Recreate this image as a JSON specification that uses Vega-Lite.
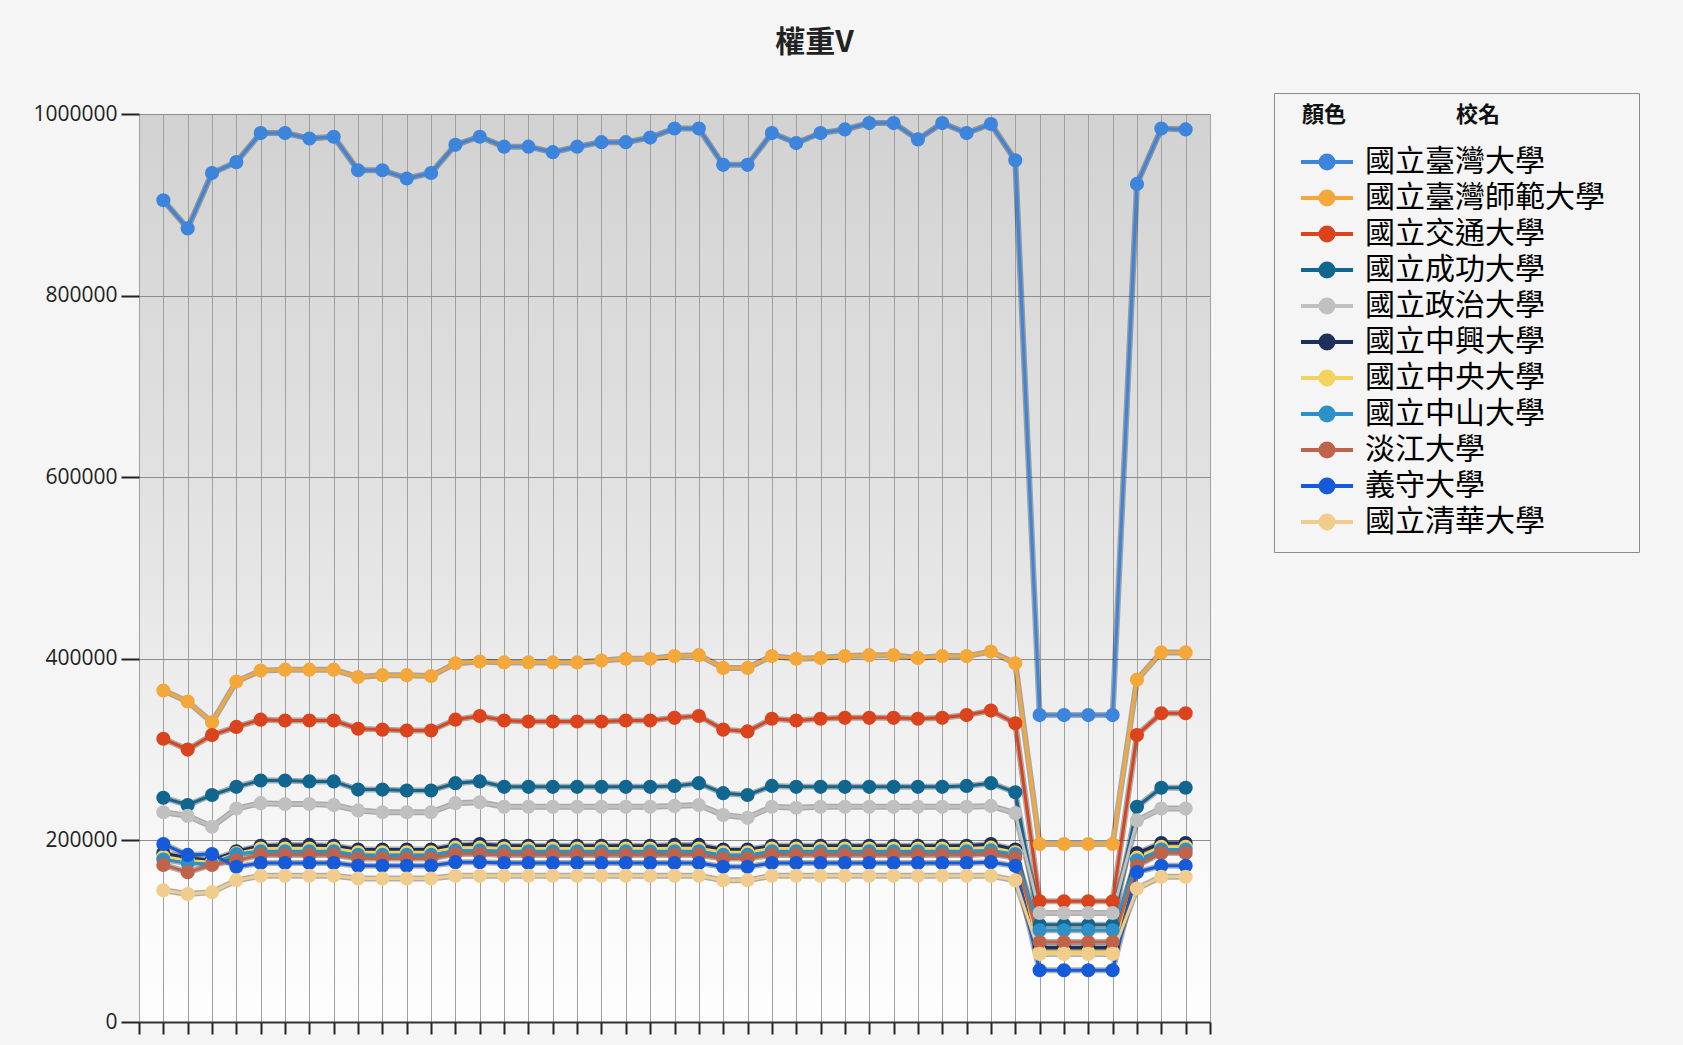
{
"$schema": "https://vega.github.io/schema/vega-lite/v6.json",
"width": 1071, "height": 908,
"autosize": {"type": "none"},
"padding": {"left": 139, "top": 114, "right": 473, "bottom": 23},
"background": "#f5f5f5",
"title": {"text": "權重V", "anchor": "middle", "frame": "group", "dx": 140, "offset": 35, "fontSize": 30, "font": "Noto Sans CJK TC", "fontWeight": "bold", "color": "#222222"},
"config": {
  "view": {"stroke": null, "fill": {"gradient": "linear", "x1": 0, "y1": 0, "x2": 0, "y2": 1, "stops": [{"offset": 0, "color": "#d2d2d2"}, {"offset": 0.5, "color": "#e5e5e5"}, {"offset": 0.85, "color": "#fafafa"}, {"offset": 1, "color": "#fdfdfd"}]}}
},
"data": {"values": [
{"s":"國立臺灣大學","t":1,"v":905000},{"s":"國立臺灣大學","t":2,"v":874000},{"s":"國立臺灣大學","t":3,"v":935000},{"s":"國立臺灣大學","t":4,"v":947000},{"s":"國立臺灣大學","t":5,"v":979000},{"s":"國立臺灣大學","t":6,"v":979000},{"s":"國立臺灣大學","t":7,"v":973000},{"s":"國立臺灣大學","t":8,"v":975000},{"s":"國立臺灣大學","t":9,"v":938000},{"s":"國立臺灣大學","t":10,"v":938000},{"s":"國立臺灣大學","t":11,"v":929000},{"s":"國立臺灣大學","t":12,"v":935000},{"s":"國立臺灣大學","t":13,"v":966000},{"s":"國立臺灣大學","t":14,"v":975000},{"s":"國立臺灣大學","t":15,"v":964000},{"s":"國立臺灣大學","t":16,"v":964000},{"s":"國立臺灣大學","t":17,"v":958000},{"s":"國立臺灣大學","t":18,"v":964000},{"s":"國立臺灣大學","t":19,"v":969000},{"s":"國立臺灣大學","t":20,"v":969000},{"s":"國立臺灣大學","t":21,"v":974000},{"s":"國立臺灣大學","t":22,"v":984000},{"s":"國立臺灣大學","t":23,"v":984000},{"s":"國立臺灣大學","t":24,"v":944000},{"s":"國立臺灣大學","t":25,"v":944000},{"s":"國立臺灣大學","t":26,"v":979000},{"s":"國立臺灣大學","t":27,"v":968000},{"s":"國立臺灣大學","t":28,"v":979000},{"s":"國立臺灣大學","t":29,"v":983000},{"s":"國立臺灣大學","t":30,"v":990000},{"s":"國立臺灣大學","t":31,"v":990000},{"s":"國立臺灣大學","t":32,"v":972000},{"s":"國立臺灣大學","t":33,"v":990000},{"s":"國立臺灣大學","t":34,"v":979000},{"s":"國立臺灣大學","t":35,"v":989000},{"s":"國立臺灣大學","t":36,"v":949000},{"s":"國立臺灣大學","t":37,"v":338000},{"s":"國立臺灣大學","t":38,"v":338000},{"s":"國立臺灣大學","t":39,"v":338000},{"s":"國立臺灣大學","t":40,"v":338000},{"s":"國立臺灣大學","t":41,"v":923000},{"s":"國立臺灣大學","t":42,"v":984000},{"s":"國立臺灣大學","t":43,"v":983000},
{"s":"國立臺灣師範大學","t":1,"v":365000},{"s":"國立臺灣師範大學","t":2,"v":353000},{"s":"國立臺灣師範大學","t":3,"v":330000},{"s":"國立臺灣師範大學","t":4,"v":375000},{"s":"國立臺灣師範大學","t":5,"v":387000},{"s":"國立臺灣師範大學","t":6,"v":388000},{"s":"國立臺灣師範大學","t":7,"v":388000},{"s":"國立臺灣師範大學","t":8,"v":388000},{"s":"國立臺灣師範大學","t":9,"v":380000},{"s":"國立臺灣師範大學","t":10,"v":382000},{"s":"國立臺灣師範大學","t":11,"v":382000},{"s":"國立臺灣師範大學","t":12,"v":381000},{"s":"國立臺灣師範大學","t":13,"v":395000},{"s":"國立臺灣師範大學","t":14,"v":397000},{"s":"國立臺灣師範大學","t":15,"v":396000},{"s":"國立臺灣師範大學","t":16,"v":396000},{"s":"國立臺灣師範大學","t":17,"v":396000},{"s":"國立臺灣師範大學","t":18,"v":396000},{"s":"國立臺灣師範大學","t":19,"v":398000},{"s":"國立臺灣師範大學","t":20,"v":400000},{"s":"國立臺灣師範大學","t":21,"v":400000},{"s":"國立臺灣師範大學","t":22,"v":403000},{"s":"國立臺灣師範大學","t":23,"v":404000},{"s":"國立臺灣師範大學","t":24,"v":390000},{"s":"國立臺灣師範大學","t":25,"v":390000},{"s":"國立臺灣師範大學","t":26,"v":403000},{"s":"國立臺灣師範大學","t":27,"v":400000},{"s":"國立臺灣師範大學","t":28,"v":401000},{"s":"國立臺灣師範大學","t":29,"v":403000},{"s":"國立臺灣師範大學","t":30,"v":404000},{"s":"國立臺灣師範大學","t":31,"v":404000},{"s":"國立臺灣師範大學","t":32,"v":401000},{"s":"國立臺灣師範大學","t":33,"v":403000},{"s":"國立臺灣師範大學","t":34,"v":403000},{"s":"國立臺灣師範大學","t":35,"v":408000},{"s":"國立臺灣師範大學","t":36,"v":395000},{"s":"國立臺灣師範大學","t":37,"v":196000},{"s":"國立臺灣師範大學","t":38,"v":196000},{"s":"國立臺灣師範大學","t":39,"v":196000},{"s":"國立臺灣師範大學","t":40,"v":196000},{"s":"國立臺灣師範大學","t":41,"v":377000},{"s":"國立臺灣師範大學","t":42,"v":407000},{"s":"國立臺灣師範大學","t":43,"v":407000},
{"s":"國立交通大學","t":1,"v":312000},{"s":"國立交通大學","t":2,"v":300000},{"s":"國立交通大學","t":3,"v":316000},{"s":"國立交通大學","t":4,"v":325000},{"s":"國立交通大學","t":5,"v":333000},{"s":"國立交通大學","t":6,"v":332000},{"s":"國立交通大學","t":7,"v":332000},{"s":"國立交通大學","t":8,"v":332000},{"s":"國立交通大學","t":9,"v":323000},{"s":"國立交通大學","t":10,"v":322000},{"s":"國立交通大學","t":11,"v":321000},{"s":"國立交通大學","t":12,"v":321000},{"s":"國立交通大學","t":13,"v":333000},{"s":"國立交通大學","t":14,"v":337000},{"s":"國立交通大學","t":15,"v":332000},{"s":"國立交通大學","t":16,"v":331000},{"s":"國立交通大學","t":17,"v":331000},{"s":"國立交通大學","t":18,"v":331000},{"s":"國立交通大學","t":19,"v":331000},{"s":"國立交通大學","t":20,"v":332000},{"s":"國立交通大學","t":21,"v":332000},{"s":"國立交通大學","t":22,"v":335000},{"s":"國立交通大學","t":23,"v":337000},{"s":"國立交通大學","t":24,"v":322000},{"s":"國立交通大學","t":25,"v":320000},{"s":"國立交通大學","t":26,"v":334000},{"s":"國立交通大學","t":27,"v":332000},{"s":"國立交通大學","t":28,"v":334000},{"s":"國立交通大學","t":29,"v":335000},{"s":"國立交通大學","t":30,"v":335000},{"s":"國立交通大學","t":31,"v":335000},{"s":"國立交通大學","t":32,"v":334000},{"s":"國立交通大學","t":33,"v":335000},{"s":"國立交通大學","t":34,"v":338000},{"s":"國立交通大學","t":35,"v":343000},{"s":"國立交通大學","t":36,"v":329000},{"s":"國立交通大學","t":37,"v":133000},{"s":"國立交通大學","t":38,"v":133000},{"s":"國立交通大學","t":39,"v":133000},{"s":"國立交通大學","t":40,"v":133000},{"s":"國立交通大學","t":41,"v":316000},{"s":"國立交通大學","t":42,"v":340000},{"s":"國立交通大學","t":43,"v":340000},
{"s":"國立成功大學","t":1,"v":247000},{"s":"國立成功大學","t":2,"v":239000},{"s":"國立成功大學","t":3,"v":250000},{"s":"國立成功大學","t":4,"v":259000},{"s":"國立成功大學","t":5,"v":266000},{"s":"國立成功大學","t":6,"v":266000},{"s":"國立成功大學","t":7,"v":265000},{"s":"國立成功大學","t":8,"v":265000},{"s":"國立成功大學","t":9,"v":256000},{"s":"國立成功大學","t":10,"v":256000},{"s":"國立成功大學","t":11,"v":255000},{"s":"國立成功大學","t":12,"v":255000},{"s":"國立成功大學","t":13,"v":263000},{"s":"國立成功大學","t":14,"v":265000},{"s":"國立成功大學","t":15,"v":259000},{"s":"國立成功大學","t":16,"v":259000},{"s":"國立成功大學","t":17,"v":259000},{"s":"國立成功大學","t":18,"v":259000},{"s":"國立成功大學","t":19,"v":259000},{"s":"國立成功大學","t":20,"v":259000},{"s":"國立成功大學","t":21,"v":259000},{"s":"國立成功大學","t":22,"v":260000},{"s":"國立成功大學","t":23,"v":263000},{"s":"國立成功大學","t":24,"v":252000},{"s":"國立成功大學","t":25,"v":250000},{"s":"國立成功大學","t":26,"v":260000},{"s":"國立成功大學","t":27,"v":259000},{"s":"國立成功大學","t":28,"v":259000},{"s":"國立成功大學","t":29,"v":259000},{"s":"國立成功大學","t":30,"v":259000},{"s":"國立成功大學","t":31,"v":259000},{"s":"國立成功大學","t":32,"v":259000},{"s":"國立成功大學","t":33,"v":259000},{"s":"國立成功大學","t":34,"v":260000},{"s":"國立成功大學","t":35,"v":263000},{"s":"國立成功大學","t":36,"v":253000},{"s":"國立成功大學","t":37,"v":107000},{"s":"國立成功大學","t":38,"v":107000},{"s":"國立成功大學","t":39,"v":107000},{"s":"國立成功大學","t":40,"v":107000},{"s":"國立成功大學","t":41,"v":237000},{"s":"國立成功大學","t":42,"v":258000},{"s":"國立成功大學","t":43,"v":258000},
{"s":"國立政治大學","t":1,"v":231000},{"s":"國立政治大學","t":2,"v":227000},{"s":"國立政治大學","t":3,"v":215000},{"s":"國立政治大學","t":4,"v":235000},{"s":"國立政治大學","t":5,"v":241000},{"s":"國立政治大學","t":6,"v":240000},{"s":"國立政治大學","t":7,"v":240000},{"s":"國立政治大學","t":8,"v":239000},{"s":"國立政治大學","t":9,"v":233000},{"s":"國立政治大學","t":10,"v":231000},{"s":"國立政治大學","t":11,"v":231000},{"s":"國立政治大學","t":12,"v":231000},{"s":"國立政治大學","t":13,"v":241000},{"s":"國立政治大學","t":14,"v":242000},{"s":"國立政治大學","t":15,"v":237000},{"s":"國立政治大學","t":16,"v":237000},{"s":"國立政治大學","t":17,"v":237000},{"s":"國立政治大學","t":18,"v":237000},{"s":"國立政治大學","t":19,"v":237000},{"s":"國立政治大學","t":20,"v":237000},{"s":"國立政治大學","t":21,"v":237000},{"s":"國立政治大學","t":22,"v":238000},{"s":"國立政治大學","t":23,"v":239000},{"s":"國立政治大學","t":24,"v":228000},{"s":"國立政治大學","t":25,"v":225000},{"s":"國立政治大學","t":26,"v":237000},{"s":"國立政治大學","t":27,"v":236000},{"s":"國立政治大學","t":28,"v":237000},{"s":"國立政治大學","t":29,"v":237000},{"s":"國立政治大學","t":30,"v":237000},{"s":"國立政治大學","t":31,"v":237000},{"s":"國立政治大學","t":32,"v":237000},{"s":"國立政治大學","t":33,"v":237000},{"s":"國立政治大學","t":34,"v":237000},{"s":"國立政治大學","t":35,"v":238000},{"s":"國立政治大學","t":36,"v":230000},{"s":"國立政治大學","t":37,"v":120000},{"s":"國立政治大學","t":38,"v":120000},{"s":"國立政治大學","t":39,"v":120000},{"s":"國立政治大學","t":40,"v":120000},{"s":"國立政治大學","t":41,"v":222000},{"s":"國立政治大學","t":42,"v":235000},{"s":"國立政治大學","t":43,"v":235000},
{"s":"國立中興大學","t":1,"v":186000},{"s":"國立中興大學","t":2,"v":181000},{"s":"國立中興大學","t":3,"v":178000},{"s":"國立中興大學","t":4,"v":188000},{"s":"國立中興大學","t":5,"v":194000},{"s":"國立中興大學","t":6,"v":195000},{"s":"國立中興大學","t":7,"v":195000},{"s":"國立中興大學","t":8,"v":194000},{"s":"國立中興大學","t":9,"v":190000},{"s":"國立中興大學","t":10,"v":190000},{"s":"國立中興大學","t":11,"v":190000},{"s":"國立中興大學","t":12,"v":190000},{"s":"國立中興大學","t":13,"v":195000},{"s":"國立中興大學","t":14,"v":196000},{"s":"國立中興大學","t":15,"v":194000},{"s":"國立中興大學","t":16,"v":194000},{"s":"國立中興大學","t":17,"v":194000},{"s":"國立中興大學","t":18,"v":194000},{"s":"國立中興大學","t":19,"v":194000},{"s":"國立中興大學","t":20,"v":194000},{"s":"國立中興大學","t":21,"v":194000},{"s":"國立中興大學","t":22,"v":195000},{"s":"國立中興大學","t":23,"v":195000},{"s":"國立中興大學","t":24,"v":190000},{"s":"國立中興大學","t":25,"v":190000},{"s":"國立中興大學","t":26,"v":194000},{"s":"國立中興大學","t":27,"v":194000},{"s":"國立中興大學","t":28,"v":194000},{"s":"國立中興大學","t":29,"v":194000},{"s":"國立中興大學","t":30,"v":194000},{"s":"國立中興大學","t":31,"v":194000},{"s":"國立中興大學","t":32,"v":194000},{"s":"國立中興大學","t":33,"v":194000},{"s":"國立中興大學","t":34,"v":194000},{"s":"國立中興大學","t":35,"v":196000},{"s":"國立中興大學","t":36,"v":190000},{"s":"國立中興大學","t":37,"v":82000},{"s":"國立中興大學","t":38,"v":82000},{"s":"國立中興大學","t":39,"v":82000},{"s":"國立中興大學","t":40,"v":82000},{"s":"國立中興大學","t":41,"v":186000},{"s":"國立中興大學","t":42,"v":197000},{"s":"國立中興大學","t":43,"v":197000},
{"s":"國立中央大學","t":1,"v":182000},{"s":"國立中央大學","t":2,"v":178000},{"s":"國立中央大學","t":3,"v":176000},{"s":"國立中央大學","t":4,"v":186000},{"s":"國立中央大學","t":5,"v":191000},{"s":"國立中央大學","t":6,"v":191000},{"s":"國立中央大學","t":7,"v":191000},{"s":"國立中央大學","t":8,"v":191000},{"s":"國立中央大學","t":9,"v":187000},{"s":"國立中央大學","t":10,"v":187000},{"s":"國立中央大學","t":11,"v":187000},{"s":"國立中央大學","t":12,"v":187000},{"s":"國立中央大學","t":13,"v":192000},{"s":"國立中央大學","t":14,"v":192000},{"s":"國立中央大學","t":15,"v":191000},{"s":"國立中央大學","t":16,"v":191000},{"s":"國立中央大學","t":17,"v":191000},{"s":"國立中央大學","t":18,"v":191000},{"s":"國立中央大學","t":19,"v":191000},{"s":"國立中央大學","t":20,"v":191000},{"s":"國立中央大學","t":21,"v":191000},{"s":"國立中央大學","t":22,"v":191000},{"s":"國立中央大學","t":23,"v":191000},{"s":"國立中央大學","t":24,"v":187000},{"s":"國立中央大學","t":25,"v":187000},{"s":"國立中央大學","t":26,"v":191000},{"s":"國立中央大學","t":27,"v":191000},{"s":"國立中央大學","t":28,"v":191000},{"s":"國立中央大學","t":29,"v":191000},{"s":"國立中央大學","t":30,"v":191000},{"s":"國立中央大學","t":31,"v":191000},{"s":"國立中央大學","t":32,"v":191000},{"s":"國立中央大學","t":33,"v":191000},{"s":"國立中央大學","t":34,"v":191000},{"s":"國立中央大學","t":35,"v":192000},{"s":"國立中央大學","t":36,"v":187000},{"s":"國立中央大學","t":37,"v":77000},{"s":"國立中央大學","t":38,"v":77000},{"s":"國立中央大學","t":39,"v":77000},{"s":"國立中央大學","t":40,"v":77000},{"s":"國立中央大學","t":41,"v":181000},{"s":"國立中央大學","t":42,"v":193000},{"s":"國立中央大學","t":43,"v":193000},
{"s":"國立中山大學","t":1,"v":179000},{"s":"國立中山大學","t":2,"v":175000},{"s":"國立中山大學","t":3,"v":174000},{"s":"國立中山大學","t":4,"v":185000},{"s":"國立中山大學","t":5,"v":188000},{"s":"國立中山大學","t":6,"v":188000},{"s":"國立中山大學","t":7,"v":188000},{"s":"國立中山大學","t":8,"v":188000},{"s":"國立中山大學","t":9,"v":184000},{"s":"國立中山大學","t":10,"v":184000},{"s":"國立中山大學","t":11,"v":184000},{"s":"國立中山大學","t":12,"v":184000},{"s":"國立中山大學","t":13,"v":189000},{"s":"國立中山大學","t":14,"v":189000},{"s":"國立中山大學","t":15,"v":188000},{"s":"國立中山大學","t":16,"v":188000},{"s":"國立中山大學","t":17,"v":188000},{"s":"國立中山大學","t":18,"v":188000},{"s":"國立中山大學","t":19,"v":188000},{"s":"國立中山大學","t":20,"v":188000},{"s":"國立中山大學","t":21,"v":188000},{"s":"國立中山大學","t":22,"v":188000},{"s":"國立中山大學","t":23,"v":188000},{"s":"國立中山大學","t":24,"v":184000},{"s":"國立中山大學","t":25,"v":184000},{"s":"國立中山大學","t":26,"v":188000},{"s":"國立中山大學","t":27,"v":188000},{"s":"國立中山大學","t":28,"v":188000},{"s":"國立中山大學","t":29,"v":188000},{"s":"國立中山大學","t":30,"v":188000},{"s":"國立中山大學","t":31,"v":188000},{"s":"國立中山大學","t":32,"v":188000},{"s":"國立中山大學","t":33,"v":188000},{"s":"國立中山大學","t":34,"v":188000},{"s":"國立中山大學","t":35,"v":189000},{"s":"國立中山大學","t":36,"v":185000},{"s":"國立中山大學","t":37,"v":101000},{"s":"國立中山大學","t":38,"v":101000},{"s":"國立中山大學","t":39,"v":101000},{"s":"國立中山大學","t":40,"v":101000},{"s":"國立中山大學","t":41,"v":178000},{"s":"國立中山大學","t":42,"v":190000},{"s":"國立中山大學","t":43,"v":190000},
{"s":"淡江大學","t":1,"v":173000},{"s":"淡江大學","t":2,"v":165000},{"s":"淡江大學","t":3,"v":173000},{"s":"淡江大學","t":4,"v":178000},{"s":"淡江大學","t":5,"v":184000},{"s":"淡江大學","t":6,"v":184000},{"s":"淡江大學","t":7,"v":184000},{"s":"淡江大學","t":8,"v":184000},{"s":"淡江大學","t":9,"v":180000},{"s":"淡江大學","t":10,"v":180000},{"s":"淡江大學","t":11,"v":180000},{"s":"淡江大學","t":12,"v":180000},{"s":"淡江大學","t":13,"v":185000},{"s":"淡江大學","t":14,"v":185000},{"s":"淡江大學","t":15,"v":184000},{"s":"淡江大學","t":16,"v":184000},{"s":"淡江大學","t":17,"v":184000},{"s":"淡江大學","t":18,"v":184000},{"s":"淡江大學","t":19,"v":184000},{"s":"淡江大學","t":20,"v":184000},{"s":"淡江大學","t":21,"v":184000},{"s":"淡江大學","t":22,"v":184000},{"s":"淡江大學","t":23,"v":184000},{"s":"淡江大學","t":24,"v":180000},{"s":"淡江大學","t":25,"v":180000},{"s":"淡江大學","t":26,"v":184000},{"s":"淡江大學","t":27,"v":184000},{"s":"淡江大學","t":28,"v":184000},{"s":"淡江大學","t":29,"v":184000},{"s":"淡江大學","t":30,"v":184000},{"s":"淡江大學","t":31,"v":184000},{"s":"淡江大學","t":32,"v":184000},{"s":"淡江大學","t":33,"v":184000},{"s":"淡江大學","t":34,"v":184000},{"s":"淡江大學","t":35,"v":185000},{"s":"淡江大學","t":36,"v":181000},{"s":"淡江大學","t":37,"v":88000},{"s":"淡江大學","t":38,"v":88000},{"s":"淡江大學","t":39,"v":88000},{"s":"淡江大學","t":40,"v":88000},{"s":"淡江大學","t":41,"v":172000},{"s":"淡江大學","t":42,"v":186000},{"s":"淡江大學","t":43,"v":186000},
{"s":"義守大學","t":1,"v":196000},{"s":"義守大學","t":2,"v":184000},{"s":"義守大學","t":3,"v":185000},{"s":"義守大學","t":4,"v":171000},{"s":"義守大學","t":5,"v":175000},{"s":"義守大學","t":6,"v":175000},{"s":"義守大學","t":7,"v":175000},{"s":"義守大學","t":8,"v":175000},{"s":"義守大學","t":9,"v":172000},{"s":"義守大學","t":10,"v":172000},{"s":"義守大學","t":11,"v":172000},{"s":"義守大學","t":12,"v":172000},{"s":"義守大學","t":13,"v":176000},{"s":"義守大學","t":14,"v":176000},{"s":"義守大學","t":15,"v":175000},{"s":"義守大學","t":16,"v":175000},{"s":"義守大學","t":17,"v":175000},{"s":"義守大學","t":18,"v":175000},{"s":"義守大學","t":19,"v":175000},{"s":"義守大學","t":20,"v":175000},{"s":"義守大學","t":21,"v":175000},{"s":"義守大學","t":22,"v":175000},{"s":"義守大學","t":23,"v":175000},{"s":"義守大學","t":24,"v":171000},{"s":"義守大學","t":25,"v":171000},{"s":"義守大學","t":26,"v":175000},{"s":"義守大學","t":27,"v":175000},{"s":"義守大學","t":28,"v":175000},{"s":"義守大學","t":29,"v":175000},{"s":"義守大學","t":30,"v":175000},{"s":"義守大學","t":31,"v":175000},{"s":"義守大學","t":32,"v":175000},{"s":"義守大學","t":33,"v":175000},{"s":"義守大學","t":34,"v":175000},{"s":"義守大學","t":35,"v":176000},{"s":"義守大學","t":36,"v":172000},{"s":"義守大學","t":37,"v":57000},{"s":"義守大學","t":38,"v":57000},{"s":"義守大學","t":39,"v":57000},{"s":"義守大學","t":40,"v":57000},{"s":"義守大學","t":41,"v":165000},{"s":"義守大學","t":42,"v":172000},{"s":"義守大學","t":43,"v":172000},
{"s":"國立清華大學","t":1,"v":145000},{"s":"國立清華大學","t":2,"v":141000},{"s":"國立清華大學","t":3,"v":143000},{"s":"國立清華大學","t":4,"v":156000},{"s":"國立清華大學","t":5,"v":161000},{"s":"國立清華大學","t":6,"v":161000},{"s":"國立清華大學","t":7,"v":161000},{"s":"國立清華大學","t":8,"v":161000},{"s":"國立清華大學","t":9,"v":158000},{"s":"國立清華大學","t":10,"v":158000},{"s":"國立清華大學","t":11,"v":158000},{"s":"國立清華大學","t":12,"v":158000},{"s":"國立清華大學","t":13,"v":161000},{"s":"國立清華大學","t":14,"v":161000},{"s":"國立清華大學","t":15,"v":161000},{"s":"國立清華大學","t":16,"v":161000},{"s":"國立清華大學","t":17,"v":161000},{"s":"國立清華大學","t":18,"v":161000},{"s":"國立清華大學","t":19,"v":161000},{"s":"國立清華大學","t":20,"v":161000},{"s":"國立清華大學","t":21,"v":161000},{"s":"國立清華大學","t":22,"v":161000},{"s":"國立清華大學","t":23,"v":161000},{"s":"國立清華大學","t":24,"v":156000},{"s":"國立清華大學","t":25,"v":156000},{"s":"國立清華大學","t":26,"v":161000},{"s":"國立清華大學","t":27,"v":161000},{"s":"國立清華大學","t":28,"v":161000},{"s":"國立清華大學","t":29,"v":161000},{"s":"國立清華大學","t":30,"v":161000},{"s":"國立清華大學","t":31,"v":161000},{"s":"國立清華大學","t":32,"v":161000},{"s":"國立清華大學","t":33,"v":161000},{"s":"國立清華大學","t":34,"v":161000},{"s":"國立清華大學","t":35,"v":161000},{"s":"國立清華大學","t":36,"v":156000},{"s":"國立清華大學","t":37,"v":75000},{"s":"國立清華大學","t":38,"v":75000},{"s":"國立清華大學","t":39,"v":75000},{"s":"國立清華大學","t":40,"v":75000},{"s":"國立清華大學","t":41,"v":147000},{"s":"國立清華大學","t":42,"v":160000},{"s":"國立清華大學","t":43,"v":160000}
]},
"encoding": {
  "x": {"field": "t", "type": "quantitative", "scale": {"domain": [0, 44], "nice": false, "zero": false},
        "axis": {"title": null, "labels": false, "values": [0,1,2,3,4,5,6,7,8,9,10,11,12,13,14,15,16,17,18,19,20,21,22,23,24,25,26,27,28,29,30,31,32,33,34,35,36,37,38,39,40,41,42,43,44],
                 "grid": true, "gridColor": "#a0a0a0", "gridWidth": 1, "tickSize": 12, "tickWidth": 2, "tickColor": "#222222", "domain": true, "domainColor": "#333333", "domainWidth": 2}},
  "y": {"field": "v", "type": "quantitative", "scale": {"domain": [0, 1000000], "nice": false},
        "axis": {"title": null, "values": [0, 200000, 400000, 600000, 800000, 1000000], "format": "d", "grid": true, "gridColor": "#8c8c8c", "gridWidth": 1, "domain": false,
                 "tickSize": 18, "tickWidth": 2, "tickColor": "#222222", "labelFont": "Open Sans", "labelFontSize": 21, "labelColor": "#222222", "labelPadding": 4}}
},
"layer": [
  {"mark": {"type": "line", "strokeWidth": 6, "color": "#000000", "opacity": 0.3},
   "encoding": {"detail": {"field": "s"}}},
  {"mark": {"type": "line", "strokeWidth": 3},
   "encoding": {"color": {"field": "s", "type": "nominal", "sort": null,
      "scale": {"domain": ["國立臺灣大學","國立臺灣師範大學","國立交通大學","國立成功大學","國立政治大學","國立中興大學","國立中央大學","國立中山大學","淡江大學","義守大學","國立清華大學"],
                "range": ["#3d84dc","#f5a83a","#db431c","#116690","#c0c0c0","#1d2f5c","#f3d35c","#2e90c8","#c0634b","#155ad8","#f0cd8c"]},
      "legend": {"orient": "none", "legendX": 1135, "legendY": -21, "title": "\u2800顏色\u3000\u3000\u3000\u3000\u3000校名\u3000\u3000\u3000\u3000\u3000\u2800", "titleLimit": 600,
                 "titleFont": "Noto Sans CJK TC", "titleFontSize": 22, "titleFontWeight": "bold", "titleColor": "#111111", "titlePadding": 17,
                 "labelFont": "Noto Sans CJK TC", "labelFontSize": 30, "labelColor": "#000000", "labelOffset": 10, "labelLimit": 400,
                 "symbolType": "M-1,0H1M-0.25,0A0.25,0.25 0 1,0 0.25,0A0.25,0.25 0 1,0 -0.25,0Z", "symbolSize": 2704, "symbolStrokeWidth": 4, "symbolOffset": 13,
                 "strokeColor": "#8c8c8c", "padding": 12, "rowPadding": 0, "clipHeight": 36}}}},
  {"mark": {"type": "point", "filled": true, "size": 200, "opacity": 1},
   "encoding": {"color": {"field": "s", "type": "nominal", "sort": null}}}
]
}
